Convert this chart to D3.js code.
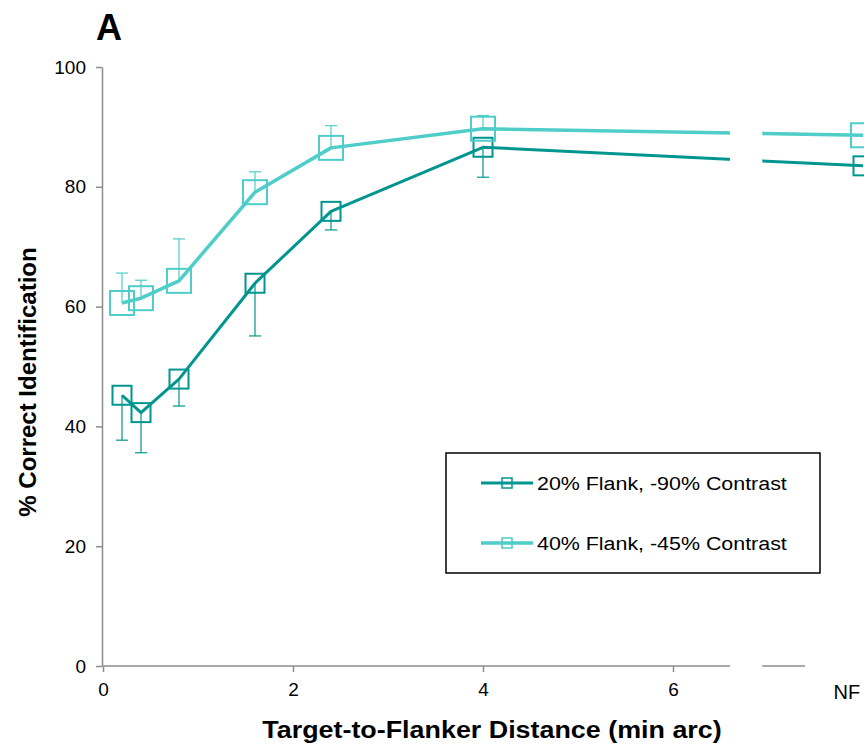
<!DOCTYPE html>
<html>
<head>
<meta charset="utf-8">
<script src="https://cdn.jsdelivr.net/npm/d3@7"></script>
<style>
  body { margin: 0; background: #fff; }
  svg { display: block; font-family: Arial, "Liberation Sans", sans-serif; }
</style>
</head>
<body>
<svg id="chart" width="864" height="746"></svg>
<script>
// Data (distance in min arc, NF placed at 8)
const distances = [0.2, 0.4, 0.8, 1.6, 2.4, 4, 8];
const darkMeans = [45.2, 42.3, 47.9, 63.9, 75.9, 86.6, 83.5];
const darkErrLow = [7.5, 6.7, 4.5, 8.8, 3.1, 5.0, null];
const lightMeans = [60.6, 61.4, 64.3, 79.1, 86.5, 89.7, 88.6];
const lightErrHigh = [5.0, 3.0, 7.0, 3.4, 3.7, 2.2, null];
const seriesNames = ['20% Flank, -90% Contrast', '40% Flank, -45% Contrast'];
const xTicks = [0, 2, 4, 6];
const yTicks = [0, 20, 40, 60, 80, 100];

const darkColor = '#00968f';
const lightColor = '#4ecdc9';
const axisColor = '#8c8c8c';
const fontFamily = 'Arial, "Liberation Sans", sans-serif';

const svg = d3.select('#chart');

const x = d3.scaleLinear().domain([0, 8]).range([103, 863]);
const y = d3.scaleLinear().domain([0, 100]).range([666, 67]);

// panel letter
svg.append('text')
    .attr('x', 96).attr('y', 40)
    .attr('font-size', 36).attr('font-weight', 'bold')
    .text('A');

// y axis
const yAxis = svg.append('g')
    .attr('transform', `translate(${x(0) - 1},0)`)
    .call(d3.axisLeft(y).tickValues(yTicks).tickSize(6).tickPadding(10).tickSizeOuter(0));
yAxis.select('.domain').attr('stroke', axisColor).attr('stroke-width', 1.5);
yAxis.selectAll('.tick line').attr('stroke', axisColor).attr('stroke-width', 1.5);
yAxis.selectAll('.tick text').attr('font-size', 19).attr('fill', '#000')
    .attr('font-family', fontFamily);

// x axis (broken before NF)
const xAxis = svg.append('g')
    .attr('transform', `translate(0,${y(0)})`)
    .call(d3.axisBottom(x).tickValues(xTicks).tickSize(6).tickPadding(11));
xAxis.select('.domain').remove();
xAxis.selectAll('.tick line').attr('stroke', axisColor).attr('stroke-width', 1.5);
xAxis.selectAll('.tick text').attr('font-size', 19).attr('fill', '#000')
    .attr('font-family', fontFamily);

const axisSegments = [[0, 6.6], [6.94, 7.39]];
xAxis.selectAll('.seg')
    .data(axisSegments)
    .join('line')
    .attr('class', 'seg')
    .attr('x1', d => x(d[0])).attr('x2', d => x(d[1]))
    .attr('y1', 0).attr('y2', 0)
    .attr('stroke', axisColor).attr('stroke-width', 1.5);

xAxis.append('text')
    .attr('x', x(7.83)).attr('y', 33)
    .attr('text-anchor', 'middle')
    .attr('font-size', 20).attr('fill', '#000')
    .text('NF');

// axis titles
svg.append('text')
    .attr('transform', `translate(36,382) rotate(-90)`)
    .attr('text-anchor', 'middle')
    .attr('font-size', 24).attr('font-weight', 'bold')
    .text('% Correct Identification');

svg.append('text')
    .attr('transform', 'translate(492,738) scale(1.12,1)')
    .attr('text-anchor', 'middle')
    .attr('font-size', 24).attr('font-weight', 'bold')
    .text('Target-to-Flanker Distance (min arc)');

// series
const series = [
    { means: darkMeans, err: darkErrLow, dir: -1, color: darkColor, lw: 3, size: 19 },
    { means: lightMeans, err: lightErrHigh, dir: 1, color: lightColor, lw: 3.5, size: 24 }
];

const plot = svg.append('g');
const line = d3.line().x(d => x(d[0])).y(d => y(d[1]));

series.forEach(s => {
    const pts = distances.map((d, i) => [d, s.means[i], s.err[i]]);
    const g = plot.append('g');

    // error bars (one direction per series)
    const eb = pts.filter(p => p[2] != null);
    g.selectAll('.eb')
        .data(eb)
        .join('line')
        .attr('x1', d => x(d[0])).attr('x2', d => x(d[0]))
        .attr('y1', d => y(d[1])).attr('y2', d => y(d[1] + s.dir * d[2]))
        .attr('stroke', s.color).attr('stroke-width', 1.2);
    g.selectAll('.cap')
        .data(eb)
        .join('line')
        .attr('x1', d => x(d[0]) - 6).attr('x2', d => x(d[0]) + 6)
        .attr('y1', d => y(d[1] + s.dir * d[2])).attr('y2', d => y(d[1] + s.dir * d[2]))
        .attr('stroke', s.color).attr('stroke-width', 1.2);

    g.append('path')
        .datum(pts)
        .attr('d', line)
        .attr('fill', 'none')
        .attr('stroke', s.color)
        .attr('stroke-width', s.lw)
        .attr('stroke-linejoin', 'round');

    g.selectAll('.mk')
        .data(pts)
        .join('rect')
        .attr('x', d => x(d[0]) - s.size / 2)
        .attr('y', d => y(d[1]) - s.size / 2)
        .attr('width', s.size).attr('height', s.size)
        .attr('fill', 'none')
        .attr('stroke', s.color).attr('stroke-width', 2);
});

// break in the data lines before NF
plot.append('rect')
    .attr('x', x(6.6)).attr('y', y(100))
    .attr('width', x(6.94) - x(6.6)).attr('height', y(0) - y(100) - 2)
    .attr('fill', '#fff');

// legend
const legend = svg.append('g').attr('transform', 'translate(446,453)');
legend.append('rect')
    .attr('width', 374).attr('height', 120)
    .attr('fill', '#fff').attr('stroke', '#000').attr('stroke-width', 1.5);

const legendItems = legend.selectAll('.item')
    .data(series)
    .join('g')
    .attr('transform', (d, i) => `translate(0,${30 + i * 60})`);
legendItems.append('line')
    .attr('x1', 35).attr('x2', 87)
    .attr('stroke', d => d.color).attr('stroke-width', d => d.lw);
legendItems.append('rect')
    .attr('x', 56).attr('y', -5).attr('width', 10).attr('height', 10)
    .attr('fill', 'none').attr('stroke', d => d.color).attr('stroke-width', 1.5);
legendItems.append('text')
    .attr('transform', 'translate(91,7) scale(1.19,1)')
    .attr('font-size', 18)
    .text((d, i) => seriesNames[i]);
</script>
</body>
</html>
